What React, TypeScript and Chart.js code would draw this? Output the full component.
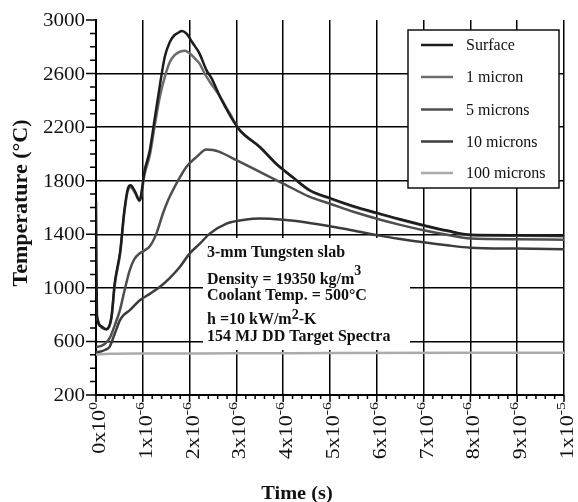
import React, { useEffect, useRef } from "react";
import { Chart, registerables } from "chart.js";

Chart.register(...registerables);

const SERIF = '"Liberation Serif", "Times New Roman", Times, serif';

// Time values are in microseconds (axis shows seconds as n x 10^-6)
const surfaceTime = [0, 0.02, 0.1, 0.22, 0.33, 0.4, 0.52, 0.6, 0.68, 0.74, 0.84, 0.93, 1.04, 1.15, 1.25, 1.36, 1.47, 1.58, 1.68, 1.76, 1.83, 1.93, 2.07, 2.21, 2.36, 2.47, 2.65, 2.86, 3.07, 3.5, 3.85, 4.2, 4.57, 5.0, 5.5, 6.0, 6.5, 7.0, 7.5, 8.0, 9.0, 10.0];
const surfaceTemp = [1650, 800, 715, 690, 782, 1034, 1280, 1560, 1740, 1766, 1715, 1654, 1878, 2028, 2252, 2501, 2726, 2838, 2888, 2905, 2918, 2900, 2826, 2751, 2626, 2564, 2427, 2290, 2178, 2053, 1928, 1828, 1729, 1670, 1610, 1560, 1512, 1468, 1428, 1396, 1393, 1390];

const micron1Time = [0, 0.1, 0.22, 0.33, 0.4, 0.52, 0.6, 0.68, 0.74, 0.84, 0.93, 1.04, 1.15, 1.25, 1.36, 1.47, 1.58, 1.68, 1.79, 1.9, 2.0, 2.11, 2.21, 2.32, 2.43, 2.65, 2.86, 3.07, 3.5, 3.85, 4.2, 4.57, 5.0, 5.5, 6.0, 6.5, 7.0, 7.5, 8.0, 9.0, 10.0];
const micron1Temp = [790, 712, 692, 775, 1020, 1265, 1545, 1725, 1752, 1705, 1648, 1850, 1990, 2200, 2420, 2576, 2688, 2738, 2763, 2771, 2751, 2714, 2676, 2601, 2539, 2427, 2302, 2178, 2050, 1925, 1825, 1725, 1666, 1606, 1556, 1508, 1464, 1424, 1392, 1389, 1386];

const micron5Time = [0, 0.1, 0.2, 0.3, 0.4, 0.51, 0.61, 0.72, 0.82, 0.93, 1.04, 1.15, 1.29, 1.43, 1.54, 1.68, 1.93, 2.15, 2.36, 2.5, 2.64, 3.0, 3.5, 4.0, 4.57, 5.0, 5.5, 6.06, 6.5, 7.0, 7.5, 8.0, 9.0, 10.0];
const micron5Temp = [560, 565, 585, 630, 720, 832, 981, 1131, 1215, 1256, 1280, 1310, 1405, 1555, 1654, 1754, 1903, 1978, 2033, 2030, 2015, 1953, 1866, 1779, 1679, 1628, 1568, 1510, 1470, 1430, 1396, 1368, 1363, 1360];

const micron10Time = [0, 0.1, 0.2, 0.29, 0.4, 0.51, 0.6, 0.72, 0.93, 1.15, 1.36, 1.58, 1.79, 2.0, 2.22, 2.43, 2.79, 3.21, 3.5, 4.0, 4.5, 5.0, 5.5, 6.06, 6.5, 7.0, 7.5, 8.0, 9.0, 10.0];
const micron10Temp = [520, 525, 538, 560, 657, 757, 800, 832, 906, 955, 1006, 1075, 1156, 1256, 1330, 1405, 1480, 1510, 1517, 1508, 1488, 1460, 1428, 1390, 1365, 1340, 1318, 1300, 1293, 1288];

const micron100Time = [0, 0.3, 1, 3, 5, 8, 10];
const micron100Temp = [503, 508, 510, 511, 513, 515, 516];

const seriesLabels = ["Surface", "1 micron", "5 microns", "10 microns", "100 microns"];
const seriesColors = ["#1c1c1c", "#6c6c6c", "#4e4e4e", "#3c3c3c", "#ababab"];

const yTickValues = [200, 600, 1000, 1400, 1800, 2200, 2600, 3000];
const xTickValues = [0, 1, 2, 3, 4, 5, 6, 7, 8, 9, 10];
const xTickBase = ["0x10", "1x10", "2x10", "3x10", "4x10", "5x10", "6x10", "7x10", "8x10", "9x10", "1x10"];
const xTickExp = ["0", "-6", "-6", "-6", "-6", "-6", "-6", "-6", "-6", "-6", "-5"];

const xTitle = "Time (s)";
const yTitle = "Temperature (°C)";

type Seg = { text: string; sup?: boolean; rise?: number };
const annotationLines: Seg[][] = [
  [{ text: "3-mm Tungsten slab" }],
  [{ text: "Density = 19350 kg/m" }, { text: "3", sup: true, rise: 9 }],
  [{ text: "Coolant Temp. = 500°C" }],
  [{ text: "h =10 kW/m" }, { text: "2", sup: true, rise: 5 }, { text: "-K" }],
  [{ text: "154 MJ DD Target Spectra" }],
];
const annotationBaselines = [257, 284, 300, 324, 341];

function makeData(t: number[], v: number[]) {
  return t.map((x, i) => ({ x, y: v[i] }));
}

const decorPlugin = {
  id: "decor",
  beforeDatasetsDraw(chart: any) {
    const ctx = chart.ctx as CanvasRenderingContext2D;
    ctx.save();
    ctx.fillStyle = "#ffffff";
    ctx.fillRect(203, 238, 207, 112);
    ctx.restore();
  },
  afterDatasetsDraw(chart: any) {
    const ctx = chart.ctx as CanvasRenderingContext2D;
    ctx.save();
    ctx.fillStyle = "#111";
    ctx.textBaseline = "alphabetic";
    ctx.textAlign = "left";
    annotationLines.forEach((line, i) => {
      let x = 207;
      const base = annotationBaselines[i];
      line.forEach((s) => {
        ctx.font = s.sup ? `bold 14px ${SERIF}` : `bold 16px ${SERIF}`;
        ctx.fillText(s.text, x, base - (s.rise || 0));
        x += ctx.measureText(s.text).width;
      });
    });
    ctx.restore();
  },
  afterDraw(chart: any) {
    const ctx = chart.ctx as CanvasRenderingContext2D;
    const xs = chart.scales.x;
    const ys = chart.scales.y;
    const { left, bottom } = chart.chartArea;
    ctx.save();
    // ticks
    ctx.strokeStyle = "#000";
    ctx.lineWidth = 1.5;
    ctx.beginPath();
    for (let v = 200; v <= 3000; v += 100) {
      const py = ys.getPixelForValue(v);
      const major = yTickValues.includes(v);
      ctx.moveTo(left - (major ? 10 : 6), py);
      ctx.lineTo(left, py);
    }
    for (let k = 0; k <= 50; k++) {
      const v = k / 5;
      const px = xs.getPixelForValue(v);
      const major = k % 5 === 0;
      ctx.moveTo(px, bottom);
      ctx.lineTo(px, bottom + (major ? 7 : 4));
    }
    ctx.stroke();

    // y tick labels
    ctx.fillStyle = "#111";
    const yStretch = 1.17;
    ctx.font = `18px ${SERIF}`;
    ctx.textAlign = "right";
    ctx.textBaseline = "alphabetic";
    yTickValues.forEach((v) => {
      const py = ys.getPixelForValue(v);
      ctx.save();
      ctx.translate(85, py + 6);
      ctx.scale(yStretch, 1);
      ctx.fillText(String(v), 0, 0);
      ctx.restore();
    });

    // x tick labels (rotated, with superscript exponent)
    const xStretch = 1.22;
    ctx.textAlign = "left";
    xTickValues.forEach((v, i) => {
      const px = xs.getPixelForValue(v);
      ctx.save();
      ctx.translate(px, bottom);
      ctx.rotate(-Math.PI / 2);
      ctx.scale(xStretch, 1);
      ctx.font = `18px ${SERIF}`;
      const w1 = ctx.measureText(xTickBase[i]).width;
      ctx.font = `13px ${SERIF}`;
      const w2 = ctx.measureText(xTickExp[i]).width;
      const start = -7 / xStretch - (w1 + w2);
      ctx.font = `18px ${SERIF}`;
      ctx.fillText(xTickBase[i], start, 9);
      ctx.font = `13px ${SERIF}`;
      ctx.fillText(xTickExp[i], start + w1, 1);
      ctx.restore();
    });

    // axis titles
    ctx.font = `bold 18px ${SERIF}`;
    ctx.textAlign = "center";
    ctx.save();
    ctx.translate(297, 499);
    ctx.scale(1.13, 1);
    ctx.fillText(xTitle, 0, 0);
    ctx.restore();

    ctx.save();
    ctx.font = `bold 20px ${SERIF}`;
    ctx.translate(27, 203);
    ctx.rotate(-Math.PI / 2);
    ctx.scale(1.1, 1);
    ctx.fillText(yTitle, 0, 0);
    ctx.restore();

    // legend
    ctx.fillStyle = "#fff";
    ctx.fillRect(408, 30, 151, 158);
    ctx.strokeStyle = "#111";
    ctx.lineWidth = 1.5;
    ctx.strokeRect(408, 30, 151, 158);
    const rows = [45, 77, 109.5, 141.5, 173];
    ctx.font = `16px ${SERIF}`;
    ctx.textAlign = "left";
    ctx.textBaseline = "alphabetic";
    seriesLabels.forEach((lab, i) => {
      ctx.strokeStyle = seriesColors[i];
      ctx.lineWidth = 2.5;
      ctx.beginPath();
      ctx.moveTo(421, rows[i]);
      ctx.lineTo(453, rows[i]);
      ctx.stroke();
      ctx.fillStyle = "#111";
      ctx.fillText(lab, 466, rows[i] + 5);
    });
    ctx.restore();
  },
};

export default function App() {
  const ref = useRef<HTMLCanvasElement | null>(null);
  useEffect(() => {
    const canvas = ref.current;
    if (!canvas) return;
    const series = [
      makeData(surfaceTime, surfaceTemp),
      makeData(micron1Time, micron1Temp),
      makeData(micron5Time, micron5Temp),
      makeData(micron10Time, micron10Temp),
      makeData(micron100Time, micron100Temp),
    ];
    const chart = new Chart(canvas, {
      type: "line",
      data: {
        datasets: series.map((d, i) => ({
          label: seriesLabels[i],
          data: d,
          borderColor: seriesColors[i],
          backgroundColor: seriesColors[i],
          borderWidth: 2.5,
          pointRadius: 0,
          fill: false,
          cubicInterpolationMode: "monotone" as const,
        })),
      },
      options: {
        responsive: false,
        animation: false,
        layout: { padding: { left: 0, top: 20, right: 14, bottom: 0 } },
        plugins: { legend: { display: false }, tooltip: { enabled: false } },
        scales: {
          x: {
            type: "linear",
            min: 0,
            max: 10,
            ticks: { display: false, stepSize: 1 },
            grid: { color: "#000", lineWidth: 1.5, drawTicks: false },
            border: { display: true, color: "#000", width: 2 },
            afterFit: (s: any) => {
              s.height = 107;
            },
          },
          y: {
            type: "linear",
            min: 200,
            max: 3000,
            ticks: { display: false, stepSize: 400 },
            grid: {
              color: (c: any) => (c.tick && c.tick.value === 3000 ? "rgba(0,0,0,0)" : "#000"),
              lineWidth: 1.5,
              drawTicks: false,
            },
            border: { display: true, color: "#000", width: 2 },
            afterFit: (s: any) => {
              s.width = 96;
            },
          },
        },
      } as any,
      plugins: [decorPlugin],
    });
    return () => chart.destroy();
  }, []);
  return (
    <div style={{ position: "fixed", left: 0, top: 0, width: 578, height: 502, background: "#fff" }}>
      <canvas ref={ref} width={578} height={502} style={{ display: "block", width: 578, height: 502 }} />
    </div>
  );
}
